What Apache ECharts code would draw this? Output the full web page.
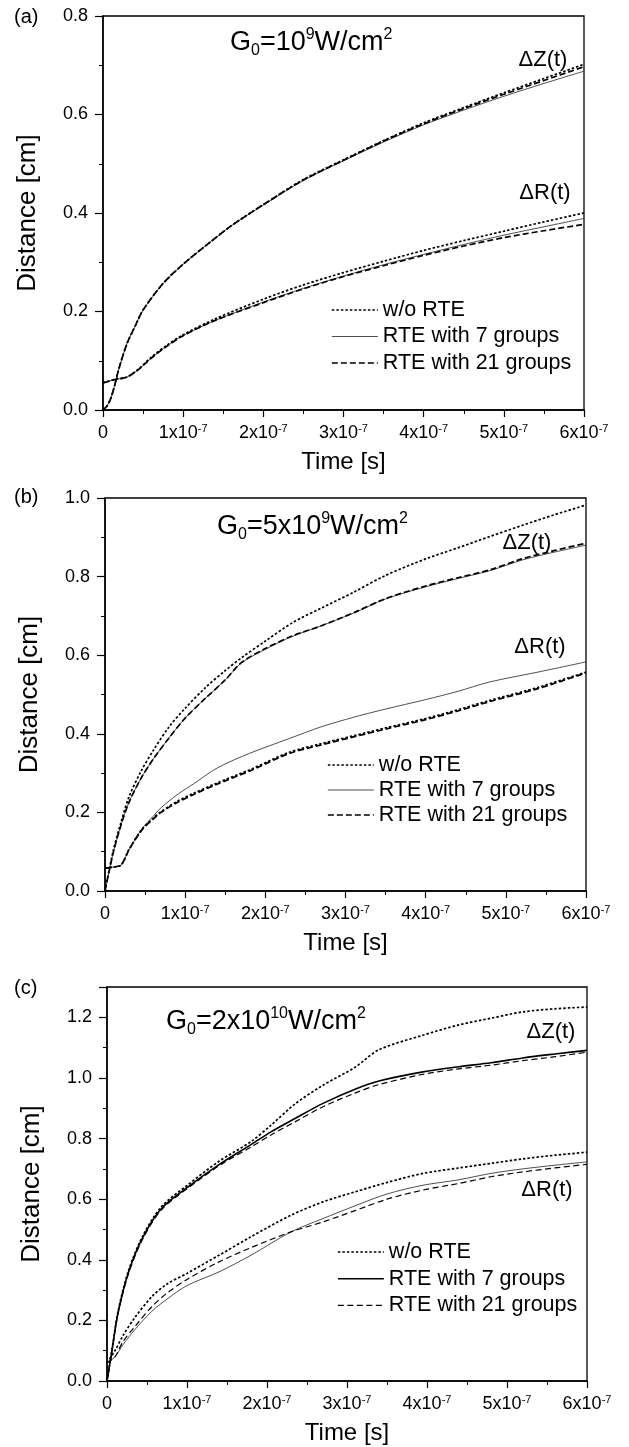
<!DOCTYPE html>
<html>
<head>
<meta charset="utf-8">
<script src="https://cdn.jsdelivr.net/npm/echarts@6/dist/echarts.min.js"></script>
<style>
  html, body { margin: 0; padding: 0; background: #fff; }
  #chart { width: 629px; height: 1447px; }
</style>
</head>
<body>
<div id="chart"></div>
<script>
// Times are given in units of 1e-7 s; distances in cm.

// ---- Panel (a): G0 = 1e9 W/cm^2 ----
const A_DZ_T      = [0, 0.05, 0.1, 0.15, 0.2, 0.3, 0.4, 0.5, 0.75, 1.0, 1.3, 1.6, 2.0, 2.5, 3.0, 3.5, 4.0, 4.5, 5.0, 5.5, 6.0];
const A_DZ_NORTE  = [0, 0.008, 0.025, 0.053, 0.085, 0.135, 0.170, 0.203, 0.257, 0.296, 0.336, 0.374, 0.417, 0.468, 0.508, 0.547, 0.583, 0.614, 0.644, 0.673, 0.702];
const A_DZ_RTE7   = [0, 0.008, 0.025, 0.053, 0.085, 0.135, 0.170, 0.203, 0.257, 0.296, 0.336, 0.374, 0.416, 0.466, 0.506, 0.544, 0.579, 0.609, 0.637, 0.663, 0.688];
const A_DZ_RTE21  = [0, 0.008, 0.025, 0.053, 0.085, 0.135, 0.170, 0.203, 0.257, 0.296, 0.336, 0.374, 0.417, 0.467, 0.507, 0.546, 0.581, 0.612, 0.641, 0.669, 0.697];

const A_DR_T      = [0, 0.15, 0.3, 0.45, 0.6, 0.8, 1.0, 1.4, 2.0, 2.5, 3.0, 3.5, 4.0, 4.5, 5.0, 5.5, 6.0];
const A_DR_NORTE  = [0.055, 0.062, 0.067, 0.084, 0.107, 0.132, 0.153, 0.185, 0.225, 0.254, 0.279, 0.302, 0.324, 0.344, 0.363, 0.382, 0.400];
const A_DR_RTE7   = [0.055, 0.062, 0.067, 0.083, 0.105, 0.130, 0.151, 0.182, 0.219, 0.247, 0.272, 0.295, 0.316, 0.336, 0.355, 0.372, 0.389];
const A_DR_RTE21  = [0.055, 0.062, 0.067, 0.083, 0.105, 0.130, 0.151, 0.182, 0.218, 0.246, 0.271, 0.293, 0.314, 0.333, 0.350, 0.364, 0.377];

// ---- Panel (b): G0 = 5e9 W/cm^2 ----
const B_DZ_T      = [0, 0.1, 0.2, 0.3, 0.45, 0.6, 0.8, 1.0, 1.25, 1.5, 1.7, 2.0, 2.35, 2.7, 3.1, 3.5, 4.0, 4.4, 4.8, 5.2, 5.6, 6.0];
const B_DZ_NORTE  = [0, 0.100, 0.175, 0.240, 0.305, 0.357, 0.418, 0.465, 0.517, 0.561, 0.593, 0.636, 0.684, 0.720, 0.760, 0.803, 0.845, 0.873, 0.902, 0.930, 0.957, 0.982];
const B_DZ_RTE7   = [0, 0.095, 0.168, 0.226, 0.287, 0.335, 0.390, 0.440, 0.490, 0.537, 0.580, 0.615, 0.649, 0.675, 0.707, 0.743, 0.774, 0.795, 0.815, 0.842, 0.862, 0.880];
const B_DZ_RTE21  = [0, 0.095, 0.168, 0.226, 0.287, 0.335, 0.390, 0.440, 0.490, 0.537, 0.581, 0.617, 0.650, 0.675, 0.708, 0.744, 0.776, 0.797, 0.817, 0.845, 0.866, 0.885];

const B_DR_T      = [0, 0.1, 0.2, 0.3, 0.46, 0.6, 0.7, 0.9, 1.1, 1.4, 1.8, 2.3, 2.7, 3.1, 3.5, 4.0, 4.4, 4.8, 5.4, 6.0];
const B_DR_NORTE  = [0.058, 0.061, 0.066, 0.106, 0.157, 0.185, 0.202, 0.228, 0.248, 0.275, 0.308, 0.353, 0.375, 0.395, 0.415, 0.439, 0.461, 0.485, 0.518, 0.557];
const B_DR_RTE7   = [0.058, 0.061, 0.066, 0.105, 0.158, 0.190, 0.212, 0.245, 0.272, 0.313, 0.350, 0.388, 0.418, 0.442, 0.463, 0.487, 0.508, 0.532, 0.557, 0.583];
const B_DR_RTE21  = [0.058, 0.061, 0.066, 0.105, 0.155, 0.183, 0.200, 0.225, 0.245, 0.272, 0.305, 0.350, 0.372, 0.392, 0.412, 0.436, 0.458, 0.482, 0.515, 0.555];

// ---- Panel (c): G0 = 2e10 W/cm^2 ----
const C_DZ_T      = [0, 0.06, 0.14, 0.27, 0.44, 0.68, 1.0, 1.4, 1.8, 2.05, 2.35, 2.7, 3.1, 3.4, 3.95, 4.4, 4.8, 5.2, 5.6, 6.0];
const C_DZ_NORTE  = [0, 0.100, 0.232, 0.365, 0.475, 0.575, 0.645, 0.725, 0.790, 0.844, 0.914, 0.976, 1.035, 1.093, 1.141, 1.175, 1.197, 1.218, 1.228, 1.234];
const C_DZ_RTE7   = [0, 0.097, 0.228, 0.360, 0.470, 0.569, 0.638, 0.714, 0.780, 0.822, 0.866, 0.916, 0.963, 0.990, 1.020, 1.037, 1.050, 1.066, 1.079, 1.091];
const C_DZ_RTE21  = [0, 0.095, 0.225, 0.355, 0.465, 0.565, 0.634, 0.710, 0.772, 0.812, 0.855, 0.905, 0.950, 0.978, 1.012, 1.030, 1.042, 1.057, 1.070, 1.085];

const C_DR_T      = [0, 0.1, 0.2, 0.35, 0.56, 0.75, 1.0, 1.4, 1.8, 2.3, 2.7, 3.1, 3.5, 3.95, 4.4, 4.8, 5.2, 5.6, 6.0];
const C_DR_NORTE  = [0.060, 0.100, 0.150, 0.210, 0.278, 0.320, 0.355, 0.415, 0.476, 0.547, 0.591, 0.624, 0.655, 0.685, 0.703, 0.718, 0.733, 0.745, 0.755];
const C_DR_RTE7   = [0.060, 0.080, 0.120, 0.170, 0.230, 0.270, 0.315, 0.360, 0.415, 0.492, 0.536, 0.578, 0.617, 0.646, 0.664, 0.685, 0.700, 0.712, 0.723];
const C_DR_RTE21  = [0.060, 0.080, 0.130, 0.180, 0.245, 0.290, 0.335, 0.393, 0.440, 0.492, 0.525, 0.562, 0.600, 0.630, 0.652, 0.674, 0.690, 0.703, 0.715];

// Axis ranges and labels
const X_TICKS_MAX = 6;
const Y_MAX = [0.8, 1.0, 1.3];
const PANEL_TAGS = ['(a)', '(b)', '(c)'];
const NAME_NORTE = 'w/o RTE';
const NAME_RTE7 = 'RTE with 7 groups';
const NAME_RTE21 = 'RTE with 21 groups';

const FONT = '"Liberation Sans", Arial, sans-serif';

// Line looks per panel
const DOTTED = { color: '#000', width: 1.7, type: [2.5, 2] };
const THIN = { color: '#222', width: 0.8, type: 'solid' };
const THICK = { color: '#000', width: 1.6, type: 'solid' };
const DASHED = { color: '#000', width: 1.7, type: [6, 3] };
const DASHED_LIGHT = { color: '#000', width: 1.2, type: [6, 3.5] };

function pairs(t, v) { return t.map((x, i) => [x, v[i]]); }

function curve(name, idx, t, v, style, z) {
  return {
    type: 'line', name, xAxisIndex: idx, yAxisIndex: idx,
    data: pairs(t, v), symbol: 'none', showSymbol: false,
    smooth: 0.3,
    lineStyle: style, itemStyle: { color: '#000' }, silent: true, z: z
  };
}

const series = [
  curve(NAME_RTE7,  0, A_DZ_T, A_DZ_RTE7,  THIN, 2),
  curve(NAME_RTE21, 0, A_DZ_T, A_DZ_RTE21, DASHED, 3),
  curve(NAME_NORTE, 0, A_DZ_T, A_DZ_NORTE, DOTTED, 4),
  curve(NAME_RTE7,  0, A_DR_T, A_DR_RTE7,  THIN, 2),
  curve(NAME_RTE21, 0, A_DR_T, A_DR_RTE21, DASHED, 3),
  curve(NAME_NORTE, 0, A_DR_T, A_DR_NORTE, DOTTED, 4),

  curve(NAME_RTE7,  1, B_DZ_T, B_DZ_RTE7,  THIN, 2),
  curve(NAME_RTE21, 1, B_DZ_T, B_DZ_RTE21, DASHED, 3),
  curve(NAME_NORTE, 1, B_DZ_T, B_DZ_NORTE, DOTTED, 4),
  curve(NAME_RTE7,  1, B_DR_T, B_DR_RTE7,  THIN, 2),
  curve(NAME_RTE21, 1, B_DR_T, B_DR_RTE21, DASHED, 3),
  curve(NAME_NORTE, 1, B_DR_T, B_DR_NORTE, DOTTED, 4),

  curve(NAME_RTE7,  2, C_DZ_T, C_DZ_RTE7,  THICK, 2),
  curve(NAME_RTE21, 2, C_DZ_T, C_DZ_RTE21, DASHED_LIGHT, 3),
  curve(NAME_NORTE, 2, C_DZ_T, C_DZ_NORTE, DOTTED, 4),
  curve(NAME_RTE7,  2, C_DR_T, C_DR_RTE7,  THIN, 2),
  curve(NAME_RTE21, 2, C_DR_T, C_DR_RTE21, DASHED_LIGHT, 3),
  curve(NAME_NORTE, 2, C_DR_T, C_DR_NORTE, DOTTED, 4)
];

const grids = [
  { left: 103, right: 45, top: 16, height: 394 },
  { left: 105, right: 43, top: 498, height: 393 },
  { left: 107, right: 42, top: 987, height: 394 }
].map(g => Object.assign({ show: true, borderColor: '#000', borderWidth: 1.3, backgroundColor: 'transparent' }, g));

const xAxes = grids.map((g, i) => ({
  type: 'value', gridIndex: i, min: 0, max: X_TICKS_MAX, interval: 1,
  axisLine: { lineStyle: { color: '#000', width: 1.5 } },
  axisTick: { length: 7, lineStyle: { color: '#000', width: 1.2 } },
  minorTick: { show: true, splitNumber: 2, length: 4, lineStyle: { color: '#000', width: 1 } },
  splitLine: { show: false },
  axisLabel: {
    margin: 13, color: '#000', fontFamily: FONT, fontSize: 18, lineHeight: 21,
    formatter: v => v === 0 ? '0' : '{b|' + v + 'x10}{e|-7}',
    rich: {
      b: { fontFamily: FONT, fontSize: 18, lineHeight: 21, color: '#000' },
      e: { fontFamily: FONT, fontSize: 11, lineHeight: 11, verticalAlign: 'top', color: '#000' }
    }
  },
  name: 'Time [s]', nameLocation: 'middle', nameGap: 40,
  nameTextStyle: { fontFamily: FONT, fontSize: 24, color: '#000' }
}));

const yAxes = grids.map((g, i) => ({
  type: 'value', gridIndex: i, min: 0, max: Y_MAX[i], interval: 0.2,
  axisLine: { lineStyle: { color: '#000', width: 1.5 } },
  axisTick: { length: 8, lineStyle: { color: '#000', width: 1.2 } },
  minorTick: { show: true, splitNumber: 2, length: 4, lineStyle: { color: '#000', width: 1 } },
  splitLine: { show: false },
  axisLabel: {
    margin: 15, color: '#000', fontFamily: FONT, fontSize: 18, showMaxLabel: i !== 2,
    formatter: v => v.toFixed(1)
  },
  name: 'Distance [cm]', nameLocation: 'middle', nameGap: 62,
  nameTextStyle: { fontFamily: FONT, fontSize: 26, color: '#000' }
}));

function legendFor(left, top, gap, styles) {
  const hidden = { opacity: 0 };
  return {
    orient: 'vertical', left, top, itemGap: gap,
    itemWidth: 46, itemHeight: 14,
    textStyle: { fontFamily: FONT, fontSize: 21.5, lineHeight: 22, color: '#000' },
    selectedMode: false,
    data: [
      { name: NAME_NORTE, lineStyle: styles[0], itemStyle: hidden },
      { name: NAME_RTE7, lineStyle: styles[1], itemStyle: hidden },
      { name: NAME_RTE21, lineStyle: styles[2], itemStyle: hidden }
    ]
  };
}

const legends = [
  legendFor(326, 294, 4.5, [DOTTED, THIN, DASHED]),
  legendFor(322, 749, 3, [DOTTED, THIN, DASHED]),
  legendFor(332, 1236, 4.7, [DOTTED, THICK, DASHED_LIGHT])
];

const RICH_G = {
  m: { fontFamily: FONT, fontSize: 27, lineHeight: 32, color: '#000' },
  s: { fontFamily: FONT, fontSize: 16, lineHeight: 14, verticalAlign: 'bottom', color: '#000' },
  p: { fontFamily: FONT, fontSize: 16, lineHeight: 14, verticalAlign: 'top', color: '#000' }
};

function textEl(x, y, text, size, align) {
  return {
    type: 'text', x, y, silent: true,
    style: { text, fontFamily: FONT, fontSize: size, fill: '#000', align: align || 'left', verticalAlign: 'middle' }
  };
}

function richEl(x, y, text) {
  return {
    type: 'text', x, y, silent: true,
    style: { text, rich: RICH_G, fill: '#000', align: 'left', verticalAlign: 'middle' }
  };
}

const graphics = [
  textEl(14, 17, PANEL_TAGS[0], 20),
  textEl(14, 497, PANEL_TAGS[1], 20),
  textEl(14, 988, PANEL_TAGS[2], 20),
  richEl(230, 43, '{m|G}{s|0}{m|=10}{p|9}{m|W/cm}{p|2}'),
  richEl(217, 527, '{m|G}{s|0}{m|=5x10}{p|9}{m|W/cm}{p|2}'),
  richEl(166, 1022, '{m|G}{s|0}{m|=2x10}{p|10}{m|W/cm}{p|2}'),
  textEl(543, 60, 'ΔZ(t)', 22, 'center'),
  textEl(545, 193, 'ΔR(t)', 22, 'center'),
  textEl(527, 543, 'ΔZ(t)', 22, 'center'),
  textEl(540, 647, 'ΔR(t)', 22, 'center'),
  textEl(551, 1032, 'ΔZ(t)', 22, 'center'),
  textEl(547, 1190, 'ΔR(t)', 22, 'center')
];

const chart = echarts.init(document.getElementById('chart'), null, { renderer: 'canvas' });
chart.setOption({
  animation: false,
  backgroundColor: '#fff',
  grid: grids,
  xAxis: xAxes,
  yAxis: yAxes,
  legend: legends,
  series: series,
  graphic: graphics
});
</script>
</body>
</html>
